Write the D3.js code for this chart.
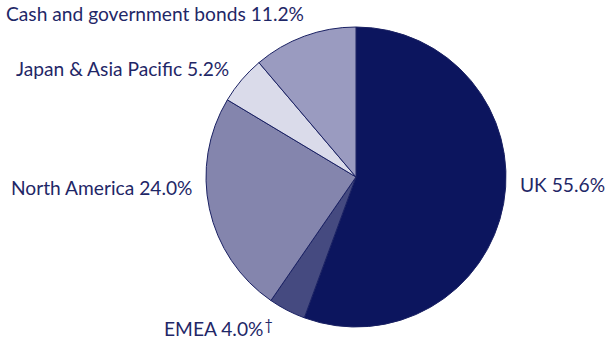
<!DOCTYPE html>
<html><head><meta charset="utf-8">
<script src="https://cdn.jsdelivr.net/npm/d3@7"></script>
<style>body{margin:0;background:#fff}svg{display:block}</style>
</head><body>
<script>
const categories = ["UK", "EMEA", "North America", "Japan & Asia Pacific", "Cash and government bonds"];
const values = [55.6, 4.0, 24.0, 5.2, 11.2];
const labels = ["UK 55.6%", "EMEA 4.0%", "North America 24.0%", "Japan & Asia Pacific 5.2%", "Cash and government bonds 11.2%"];
const colors = ["#0c155e", "#454a80", "#8485ad", "#dadbea", "#9a9bc0"];

const W = 606, H = 344;
const cx = 356, cy = 177, R = 150;
const svg = d3.select("body").append("svg").attr("width", W).attr("height", H);

const pie = d3.pie().sort(null).value(d => d)(values);
const arc = d3.arc().innerRadius(0).outerRadius(R);
const g = svg.append("g").attr("transform", `translate(${cx},${cy})`);
g.selectAll("path").data(pie).join("path")
  .attr("d", arc)
  .attr("fill", (d, i) => colors[i])
  .attr("stroke", "#1a2163").attr("stroke-width", 1);

// label positions (anchor start x, baseline y)
const labelPos = [[520, 192], [164, 336], [11, 195], [16, 76], [6, 21]];
const font = "Lato, 'Open Sans', sans-serif";
const tg = svg.append("g").attr("font-family", font).attr("fill", "#1f2767").attr("font-size", 20);
const texts = tg.selectAll("text").data(labels).join("text")
  .attr("x", (d, i) => labelPos[i][0]).attr("y", (d, i) => labelPos[i][1])
  .text(d => d);
// fit font size so the longest label matches target width
const longest = texts.filter((d, i) => i === 4).node();
const wl = longest.getComputedTextLength();
const fs = 20 * 298 / wl;
tg.attr("font-size", fs);
// dagger after EMEA
const emea = texts.filter((d, i) => i === 1).node();
const ew = emea.getComputedTextLength();
tg.append("text").attr("x", labelPos[1][0] + ew + 1).attr("y", labelPos[1][1] - 6)
  .attr("font-size", fs * 0.75).text("†");
</script>
</body></html>
